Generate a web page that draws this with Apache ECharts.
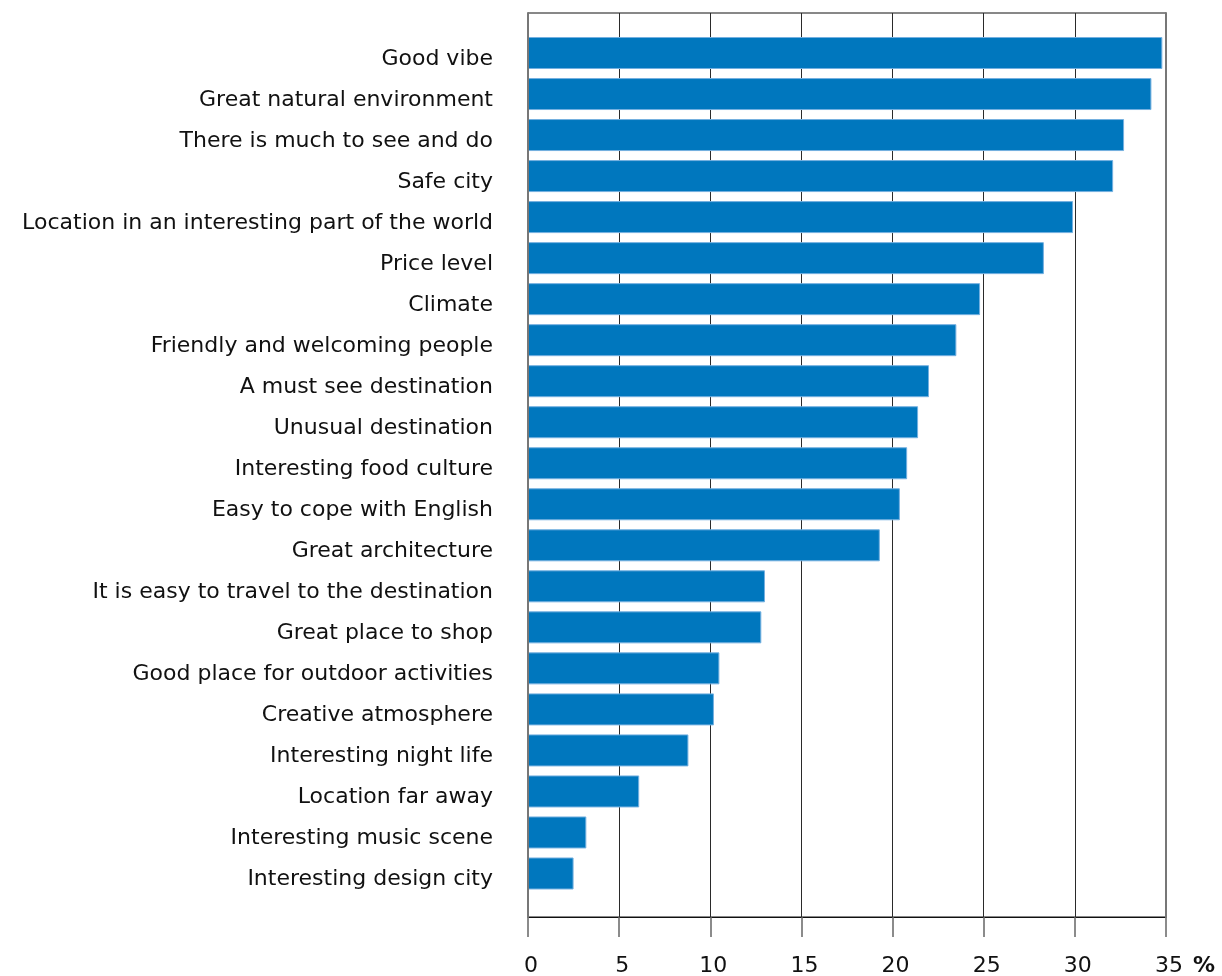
<!DOCTYPE html>
<html>
<head>
<meta charset="utf-8">
<script src="https://cdn.jsdelivr.net/npm/echarts@6/dist/echarts.min.js"></script>
<style>
  html, body { margin: 0; padding: 0; background: #ffffff; }
  #chart { width: 1222px; height: 976px; }
</style>
</head>
<body>
<div id="chart"></div>
<script>
// Reasons for choosing the destination, share of respondents (%)
const categories = [
  'Good vibe',
  'Great natural environment',
  'There is much to see and do',
  'Safe city',
  'Location in an interesting part of the world',
  'Price level',
  'Climate',
  'Friendly and welcoming people',
  'A must see destination',
  'Unusual destination',
  'Interesting food culture',
  'Easy to cope with English',
  'Great architecture',
  'It is easy to travel to the destination',
  'Great place to shop',
  'Good place for outdoor activities',
  'Creative atmosphere',
  'Interesting night life',
  'Location far away',
  'Interesting music scene',
  'Interesting design city'
];
const shares = [
  34.8, 34.2, 32.7, 32.1, 29.9, 28.3, 24.8, 23.5, 22.0, 21.4, 20.8,
  20.4, 19.3, 13.0, 12.8, 10.5, 10.2, 8.8, 6.1, 3.2, 2.5
];
const xMin = 0;
const xMax = 35;
const xStep = 5;
const unitLabel = '%';

const FONT = '"DejaVu Sans", Verdana, sans-serif';
const LABEL_GAP = 38;
const chart = echarts.init(document.getElementById('chart'), null, { renderer: 'canvas' });

const hiddenParts = {
  axisTick: { show: false }, axisLabel: { show: false }, splitLine: { show: false }
};

chart.setOption({
  animation: false,
  backgroundColor: '#ffffff',
  grid: [
    // frame, gridlines and value scale
    { left: 528, right: 56, top: 13, bottom: 59, containLabel: false, outerBoundsMode: 'none',
      show: true, borderColor: '#111', borderWidth: 1, backgroundColor: 'transparent' },
    // bars
    { left: 528, right: 56, top: 32.5, bottom: 82, containLabel: false, outerBoundsMode: 'none' },
    // category labels, set slightly lower than the bar centres
    { left: 528, right: 56, top: 38.5, bottom: 76, containLabel: false, outerBoundsMode: 'none' }
  ],
  xAxis: [
    {
      gridIndex: 0, type: 'value', position: 'bottom',
      min: xMin, max: xMax, interval: xStep,
      axisLine: { show: true, onZero: false, lineStyle: { color: '#111', width: 1 } },
      axisTick: { show: true, inside: false, length: 20, lineStyle: { color: '#666', width: 1.5 } },
      axisLabel: { show: true, margin: LABEL_GAP, fontFamily: FONT, fontSize: 22, color: '#111', padding: [0, 0, 0, 6] },
      splitLine: { show: true, lineStyle: { color: '#2a2a2a', width: 1 } }
    },
    { gridIndex: 1, type: 'value', min: xMin, max: xMax, show: false },
    { gridIndex: 2, type: 'value', min: xMin, max: xMax, show: false }
  ],
  yAxis: [
    Object.assign({
      gridIndex: 0, type: 'value', position: 'left', z: 5,
      axisLine: { show: true, onZero: false, lineStyle: { color: '#777', width: 2 } }
    }, hiddenParts),
    Object.assign({
      gridIndex: 0, type: 'value', position: 'right', z: 5,
      axisLine: { show: true, onZero: false, lineStyle: { color: '#777', width: 2 } }
    }, hiddenParts),
    {
      gridIndex: 1, type: 'category', data: categories, inverse: true,
      axisLine: { show: false }, axisTick: { show: false }, splitLine: { show: false },
      axisLabel: { show: false }
    },
    {
      gridIndex: 2, type: 'category', data: categories, inverse: true,
      axisLine: { show: false }, axisTick: { show: false }, splitLine: { show: false },
      axisLabel: { show: true, margin: 35, fontFamily: FONT, fontSize: 22, color: '#111' }
    }
  ],
  series: [
    {
      type: 'bar',
      xAxisIndex: 1, yAxisIndex: 2,
      data: shares,
      barWidth: 32,
      itemStyle: { color: '#0077be', borderColor: '#74b0e0', borderWidth: 1 },
      z: 2
    }
  ]
});

// unit label, placed just right of the last tick label
const endPt = chart.convertToPixel({ xAxisIndex: 0, yAxisIndex: 0 }, [xMax, 0]);
const frame = chart.getModel().getComponent('grid', 0).coordinateSystem.getRect();
chart.setOption({
  graphic: [{
    type: 'text',
    left: endPt[0] + 27,
    top: frame.y + frame.height + LABEL_GAP,
    style: { text: unitLabel, font: 'bold 22px ' + FONT, fill: '#111' }
  }]
});
</script>
</body>
</html>
